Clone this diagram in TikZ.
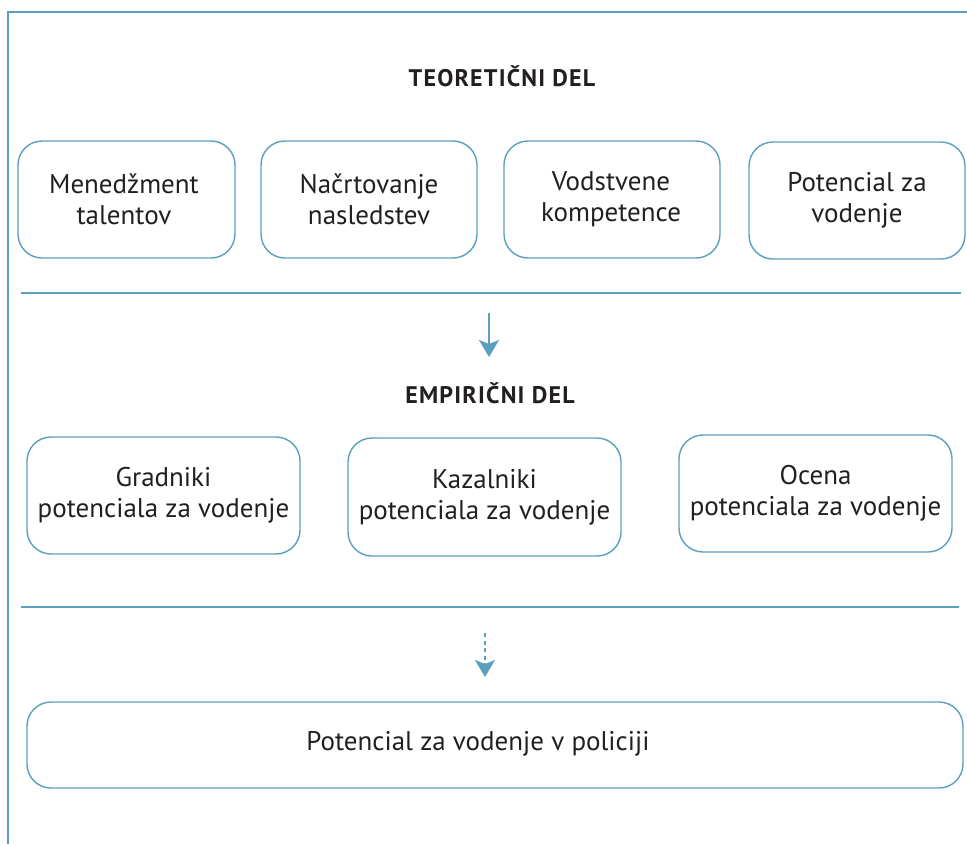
\documentclass[tikz,border=0pt]{standalone}
\usepackage{fontspec}
\setmainfont{PT Sans}
\newfontfamily\headfont[LetterSpace=5]{PT Sans}
\usetikzlibrary{arrows.meta}
\definecolor{frameblue}{HTML}{5AA0BE}
\definecolor{ink}{HTML}{231F20}
\begin{document}
\begin{tikzpicture}[x=1pt,y=-1pt,
  boxstyle/.style={draw=frameblue, line width=1.4pt, rounded corners=24pt},
  boxtext/.style={text=ink, font=\fontsize{27}{31}\selectfont, align=center},
  heading/.style={text=ink, font=\headfont\fontsize{24}{28}\selectfont\bfseries},
  rule/.style={draw=frameblue, line width=1.4pt},
  flow/.style={draw=frameblue, line width=1.8pt,
    -{Stealth[length=17pt, width=20pt, inset=4pt]}}]
  \useasboundingbox (0,0) rectangle (967,844);
  % outer frame: top and left edges only
  \draw[rule] (967,12) -- (8,12) -- (8,844);
  % section separators
  \draw[rule] (21,293) -- (961,293);
  \draw[rule] (21,607) -- (959,607);

  % theoretical part
  \node[heading] (theo) at (502,76) {TEORETIČNI DEL};
  \draw[boxstyle] (18,141) rectangle (235,258);
  \node[boxtext] (t1) at (124,199.5) {Menedžment\\talentov};
  \draw[boxstyle] (261,141) rectangle (477,258);
  \node[boxtext] (t2) at (369,199.5) {Načrtovanje\\nasledstev};
  \draw[boxstyle] (504,141) rectangle (720,258);
  \node[boxtext] (t3) at (611,199.5) {Vodstvene\\kompetence};
  \draw[boxstyle] (749,142) rectangle (965,259);
  \node[boxtext] (t4) at (857,200.5) {Potencial za\\vodenje};

  % arrow into empirical part
  \coordinate (a1s) at (489,313);
  \coordinate (a1e) at (489,357);
  \draw[flow] (a1s) -- (a1e);

  % empirical part
  \node[heading] (emp) at (490,393) {EMPIRIČNI DEL};
  \draw[boxstyle] (27,437) rectangle (300,554);
  \node[boxtext] (e1) at (163.5,495.5) {Gradniki\\potenciala za vodenje};
  \draw[boxstyle] (348,438) rectangle (621,556);
  \node[boxtext] (e2) at (484.5,497) {Kazalniki\\potenciala za vodenje};
  \draw[boxstyle] (679,435) rectangle (952,552);
  \node[boxtext] (e3) at (815.5,493.5) {Ocena\\potenciala za vodenje};

  % dashed arrow into the result
  \coordinate (a2s) at (485,633);
  \coordinate (a2e) at (485,677);
  \draw[flow, dash pattern=on 4pt off 3.5pt] (a2s) -- (a2e);

  % result
  \draw[boxstyle] (27,702) rectangle (963,788);
  \node[boxtext] (r) at (478,744) {Potencial za vodenje v policiji};
\end{tikzpicture}
\end{document}
